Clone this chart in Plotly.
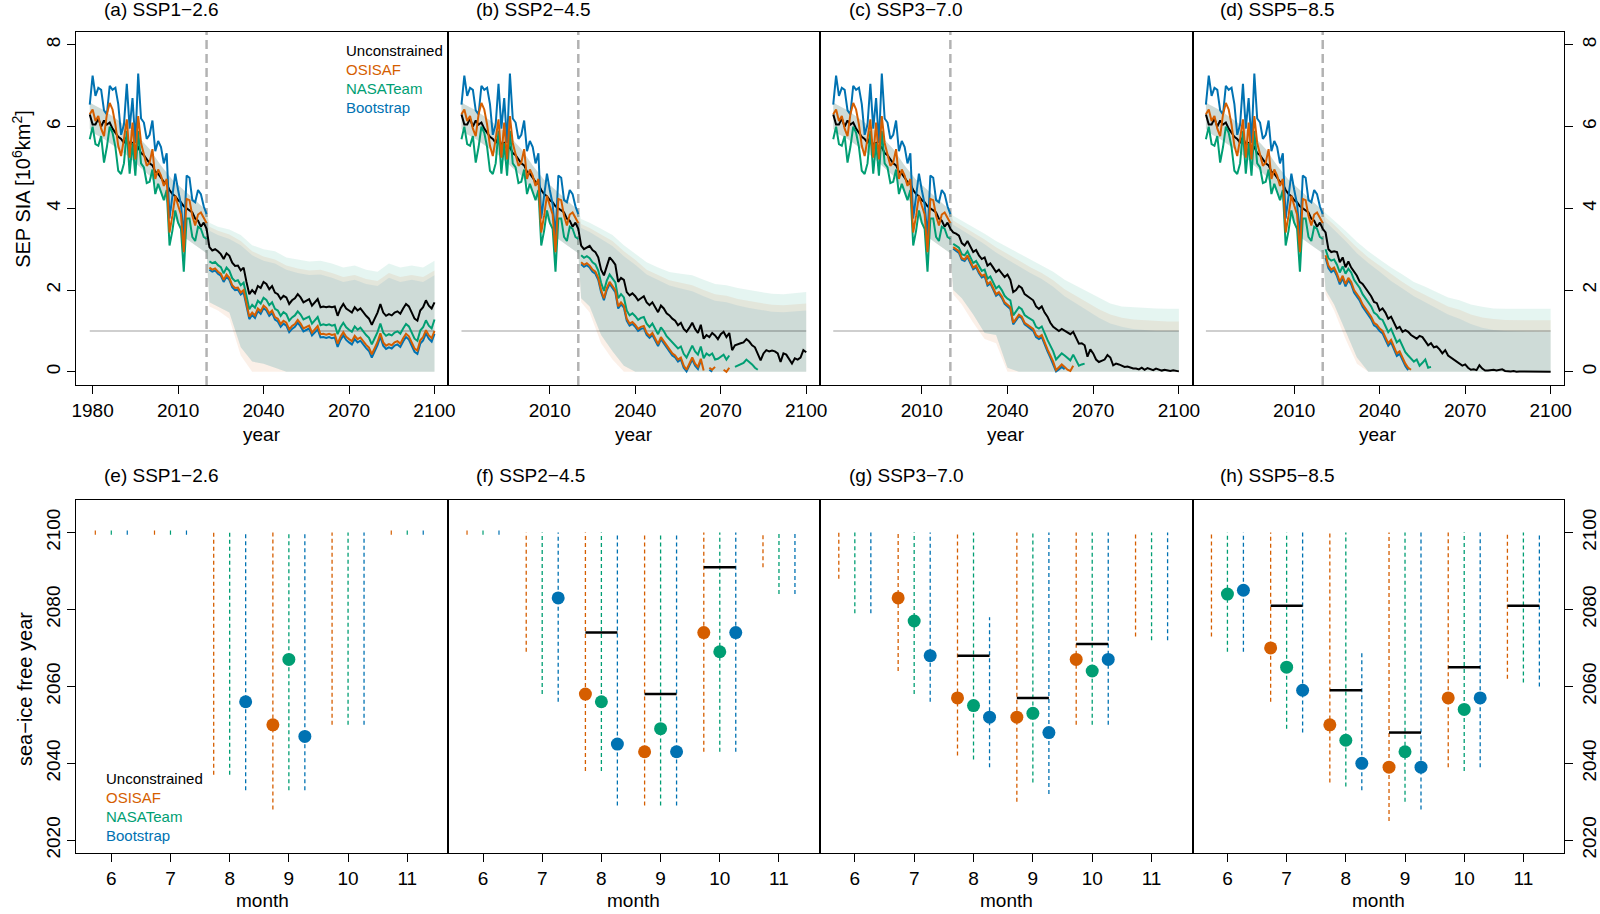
import plotly.graph_objects as go

# ---------------------------------------------------------------- data
OBS_YEARS = list(range(1979, 2021))
FUT_START = 2021
TRANSITION_YEAR = 2020
THRESHOLD = 1.0
LAST_YEAR = 2100

OBS_OSISAF = [6.3, 6.42, 6.14, 6.26, 5.95, 5.77, 6.3, 6.58, 6.42, 6.05,
              5.53, 5.28, 5.7, 6.18, 5.24, 6.1, 5.2, 6.26, 5.6, 5.3,
              5.04, 5.12, 5.45, 4.72, 4.95, 4.8, 4.55, 4.72, 3.41, 3.82,
              4.31, 4.07, 3.85, 2.93, 4.23, 4.2, 3.82, 3.58, 3.85, 3.9,
              3.78, 3.64]
OBS_NASATEAM = [5.69, 6.0, 5.57, 5.53, 5.77, 5.12, 5.5, 6.0, 5.85, 5.5,
                4.92, 4.84, 5.1, 5.9, 4.85, 5.6, 4.8, 5.9, 5.1, 5.0,
                4.62, 4.65, 4.95, 4.35, 4.6, 4.4, 4.2, 4.45, 3.09, 3.45,
                3.95, 3.65, 3.5, 2.45, 3.75, 3.75, 3.3, 3.2, 3.55, 3.5,
                3.3, 3.25]
OBS_BOOTSTRAP = [6.54, 7.25, 6.75, 6.95, 6.9, 6.4, 6.3, 7.0, 6.9, 6.95,
                 6.55, 5.8, 6.05, 7.05, 5.95, 6.7, 5.6, 7.3, 6.2, 6.1,
                 5.7, 5.8, 6.15, 5.4, 5.65, 5.5, 5.1, 5.35, 3.75, 4.25,
                 4.85, 4.45, 4.1, 3.3, 4.8, 4.75, 4.2, 4.15, 4.45, 4.35,
                 4.05, 3.86]
UNC_HIST = [6.3, 6.05, 6.05, 6.2, 6.0, 6.15, 6.05, 6.1, 5.95, 5.85,
            5.75, 5.7, 5.6, 5.75, 5.55, 5.6, 5.45, 5.5, 5.35, 5.3,
            5.2, 5.1, 5.05, 4.9, 4.85, 4.75, 4.65, 4.6, 4.45, 4.35,
            4.3, 4.2, 4.15, 4.05, 4.0, 3.95, 3.9, 3.75, 3.7, 3.55,
            3.65, 3.5]

# --- SSP1-2.6 projections (2021 ...)
UNC_126 = [3.05, 2.97, 3.0, 2.95, 2.88, 2.76, 2.9, 2.84, 2.67, 2.59,
           2.6, 2.48, 2.55, 2.2, 1.9, 2.0, 1.92, 2.1, 2.05, 2.2,
           2.15, 2.02, 2.1, 1.94, 1.9, 1.78, 1.86, 1.82, 1.66, 1.75,
           1.8, 1.9, 1.82, 1.7, 1.75, 1.78, 1.62, 1.7, 1.78, 1.58,
           1.6, 1.58, 1.6, 1.58, 1.6, 1.37, 1.55, 1.66, 1.55, 1.5,
           1.45, 1.58, 1.5, 1.55, 1.45, 1.37, 1.3, 1.15, 1.3, 1.45,
           1.66, 1.45, 1.37, 1.41, 1.38, 1.45, 1.48, 1.42, 1.55, 1.66,
           1.6, 1.45, 1.3, 1.25, 1.5, 1.58, 1.75, 1.62, 1.55, 1.7]
OSI_126 = [2.55, 2.5, 2.53, 2.45, 2.4, 2.25, 2.38, 2.3, 2.12, 2.05,
           2.06, 1.94, 2.0, 1.65, 1.35, 1.45, 1.38, 1.55, 1.48, 1.62,
           1.56, 1.43, 1.5, 1.34, 1.3, 1.17, 1.25, 1.2, 1.04, 1.12,
           1.17, 1.27, 1.18, 1.06, 1.1, 1.13, 0.96, 1.04, 1.12, 0.92,
           0.93, 0.91, 0.93, 0.9, 0.92, 0.69, 0.86, 0.97, 0.86, 0.8,
           0.75, 0.88, 0.8, 0.84, 0.74, 0.66, 0.59, 0.43, 0.58, 0.73,
           0.94, 0.72, 0.64, 0.68, 0.65, 0.72, 0.75, 0.69, 0.82, 0.93,
           0.87, 0.72, 0.57, 0.52, 0.77, 0.85, 1.02, 0.89, 0.82, 1.0]
NAS_126 = [2.7, 2.66, 2.69, 2.61, 2.56, 2.41, 2.55, 2.47, 2.29, 2.22,
           2.24, 2.12, 2.18, 1.83, 1.53, 1.64, 1.57, 1.74, 1.67, 1.81,
           1.76, 1.63, 1.7, 1.54, 1.5, 1.37, 1.46, 1.41, 1.25, 1.33,
           1.38, 1.48, 1.4, 1.28, 1.32, 1.35, 1.18, 1.26, 1.34, 1.14,
           1.16, 1.14, 1.16, 1.13, 1.15, 0.92, 1.09, 1.2, 1.09, 1.03,
           0.98, 1.11, 1.03, 1.08, 0.98, 0.9, 0.83, 0.67, 0.82, 0.97,
           1.18, 0.96, 0.88, 0.92, 0.89, 0.96, 0.99, 0.93, 1.06, 1.17,
           1.11, 0.96, 0.81, 0.76, 1.01, 1.09, 1.26, 1.13, 1.06, 1.28]
BOOT_126 = [2.5, 2.45, 2.48, 2.4, 2.35, 2.2, 2.33, 2.25, 2.07, 2.0,
            2.01, 1.89, 1.94, 1.59, 1.29, 1.39, 1.32, 1.49, 1.42, 1.56,
            1.5, 1.37, 1.44, 1.28, 1.23, 1.1, 1.18, 1.13, 0.97, 1.05,
            1.1, 1.2, 1.11, 0.99, 1.03, 1.06, 0.89, 0.96, 1.04, 0.84,
            0.85, 0.83, 0.85, 0.82, 0.84, 0.61, 0.78, 0.89, 0.78, 0.72,
            0.67, 0.8, 0.72, 0.76, 0.66, 0.58, 0.51, 0.35, 0.5, 0.65,
            0.86, 0.64, 0.56, 0.6, 0.57, 0.64, 0.67, 0.61, 0.74, 0.85,
            0.79, 0.64, 0.49, 0.44, 0.69, 0.77, 0.94, 0.81, 0.74, 0.93]

# --- SSP2-4.5
UNC_245 = [3.09, 3.0, 3.05, 3.08, 2.98, 2.93, 2.8, 2.5, 2.36, 2.6,
           2.8, 2.72, 2.62, 2.2, 2.3, 2.25, 1.95, 1.87, 1.92, 1.85,
           1.75, 1.8, 1.85, 1.7, 1.63, 1.7, 1.58, 1.46, 1.62, 1.55,
           1.43, 1.38, 1.3, 1.25, 1.14, 1.2, 1.05, 0.98, 1.08, 1.2,
           1.05, 0.95, 1.15, 0.81, 0.9, 0.85, 0.95, 0.89, 0.8, 0.92,
           0.98, 0.85, 0.95, 0.53, 0.65, 0.68, 0.7, 0.72, 0.8, 0.74,
           0.65, 0.6, 0.45, 0.28, 0.45, 0.53, 0.5, 0.52, 0.5, 0.45,
           0.24, 0.45, 0.42, 0.3, 0.2, 0.33, 0.3, 0.35, 0.53, 0.48]
OSI_245 = [2.68, 2.62, 2.66, 2.6, 2.5, 2.45, 2.3, 2.0, 1.8, 2.05,
           2.2, 2.1, 2.0, 1.6, 1.7, 1.62, 1.3, 1.18, 1.22, 1.15,
           1.05, 1.1, 1.12, 0.95, 0.88, 0.95, 0.8, 0.68, 0.85, 0.75,
           0.62, 0.55, 0.45, 0.4, 0.3, 0.35, 0.15, 0.05, 0.2, 0.35,
           0.2, 0.12, 0.32, 0.03, None, 0.1, 0.05, 0.12, None, None,
           0.05, 0.0, 0.1]
NAS_245 = [2.85, 2.79, 2.83, 2.78, 2.68, 2.63, 2.48, 2.18, 1.98, 2.23,
           2.38, 2.29, 2.19, 1.8, 1.9, 1.82, 1.5, 1.38, 1.43, 1.36,
           1.27, 1.32, 1.34, 1.18, 1.1, 1.18, 1.04, 0.92, 1.09, 1.0,
           0.87, 0.8, 0.71, 0.66, 0.57, 0.62, 0.44, 0.35, 0.5, 0.64,
           0.5, 0.42, 0.62, 0.33, 0.45, 0.4, 0.45, 0.3, 0.32, 0.38,
           0.42, 0.3, 0.4, None, 0.12, 0.15, 0.18, 0.22, 0.3, 0.25,
           0.18, 0.1, 0.05]
BOOT_245 = [2.63, 2.57, 2.61, 2.55, 2.45, 2.4, 2.25, 1.95, 1.75, 2.0,
            2.15, 2.05, 1.95, 1.55, 1.65, 1.57, 1.25, 1.13, 1.17, 1.1,
            1.0, 1.05, 1.07, 0.9, 0.83, 0.9, 0.75, 0.63, 0.8, 0.7,
            0.57, 0.5, 0.4, 0.35, 0.25, 0.3, 0.1, 0.01, 0.15, 0.3,
            0.15, 0.07, 0.27, None, None, 0.05, 0.0]

# --- SSP3-7.0
UNC_370 = [3.41, 3.38, 3.33, 3.15, 3.09, 3.2, 3.05, 2.93, 2.98, 2.85,
           2.76, 2.8, 2.6, 2.65, 2.55, 2.44, 2.5, 2.42, 2.32, 2.38,
           2.25, 1.95, 2.0, 2.1, 2.05, 1.9, 1.85, 1.8, 1.75, 1.6,
           1.54, 1.6, 1.45, 1.35, 1.2, 1.1, 1.05, 1.0, 1.05, 1.0,
           0.95, 0.92, 0.98, 0.85, 0.69, 0.7, 0.65, 0.37, 0.55, 0.45,
           0.3, 0.24, 0.28, 0.3, 0.41, 0.35, 0.16, 0.2, 0.18, 0.15,
           0.12, 0.13, 0.1, 0.08, 0.08, 0.06, 0.1, 0.05, 0.09, 0.06,
           0.04, 0.08, 0.05, 0.03, 0.05, 0.03, 0.02, 0.04, 0.02, 0.01]
OSI_370 = [3.05, 3.0, 2.95, 2.78, 2.75, 2.85, 2.68, 2.55, 2.6, 2.45,
           2.35, 2.38, 2.15, 2.2, 2.05, 1.9, 1.95, 1.85, 1.7, 1.63,
           1.58, 1.2, 1.3, 1.4, 1.35, 1.2, 1.15, 1.1, 1.05, 0.9,
           0.85, 0.9, 0.7, 0.55, 0.4, 0.25, 0.04, 0.1, 0.18, 0.12,
           0.05, 0.02, 0.15]
NAS_370 = [3.13, 3.09, 3.04, 2.88, 2.85, 2.95, 2.79, 2.66, 2.71, 2.57,
           2.47, 2.5, 2.28, 2.33, 2.19, 2.04, 2.1, 2.0, 1.86, 1.79,
           1.75, 1.38, 1.48, 1.58, 1.53, 1.39, 1.34, 1.3, 1.25, 1.1,
           1.06, 1.11, 0.92, 0.78, 0.64, 0.5, 0.3, 0.38, 0.45, 0.4,
           0.33, 0.28, 0.42, 0.3, 0.15, 0.18, 0.2]
BOOT_370 = [3.01, 2.96, 2.91, 2.74, 2.71, 2.81, 2.64, 2.51, 2.56, 2.41,
            2.31, 2.34, 2.11, 2.16, 2.01, 1.86, 1.91, 1.81, 1.66, 1.59,
            1.54, 1.16, 1.26, 1.36, 1.31, 1.16, 1.11, 1.06, 1.0, 0.85,
            0.8, 0.85, 0.65, 0.5, 0.35, 0.2, 0.01, 0.06, 0.12, 0.06]

# --- SSP5-8.5
UNC_585 = [3.41, 3.0, 2.93, 2.95, 2.93, 2.68, 2.8, 2.56, 2.7, 2.55,
           2.44, 2.35, 2.2, 2.15, 2.05, 1.95, 1.85, 1.71, 1.68, 1.5,
           1.55, 1.45, 1.3, 1.35, 1.2, 1.06, 1.1, 0.98, 1.02, 0.98,
           0.9, 0.85, 0.81, 0.88, 0.85, 0.75, 0.65, 0.7, 0.6, 0.62,
           0.55, 0.45, 0.53, 0.4, 0.35, 0.3, 0.24, 0.2, 0.15, 0.18,
           0.1, 0.05, 0.06, 0.04, 0.16, 0.08, 0.03, 0.03, 0.04, 0.05,
           0.03, 0.04, 0.06, 0.02, 0.01, 0.01, 0.02, 0.0, 0.01, 0.01,
           0.0, 0.0, 0.01, 0.0, 0.0, 0.0, 0.01, 0.0, 0.0, 0.0]
OSI_585 = [2.85, 2.6, 2.5, 2.55, 2.4, 2.2, 2.35, 2.15, 2.3, 2.2,
           2.0, 1.9, 1.8, 1.65, 1.55, 1.45, 1.35, 1.2, 1.15, 1.06,
           1.0, 0.85, 0.7, 0.78, 0.6, 0.45, 0.5, 0.35, 0.2, 0.1,
           0.05]
NAS_585 = [3.0, 2.78, 2.72, 2.75, 2.62, 2.43, 2.58, 2.4, 2.52, 2.43,
           2.25, 2.15, 2.05, 1.9, 1.8, 1.7, 1.6, 1.45, 1.4, 1.3,
           1.27, 1.12, 0.97, 1.05, 0.88, 0.72, 0.78, 0.62, 0.48, 0.4,
           0.33, 0.25, 0.3, 0.15, 0.22, 0.3, 0.1, 0.12]
BOOT_585 = [2.79, 2.54, 2.44, 2.49, 2.34, 2.14, 2.29, 2.09, 2.24, 2.14,
            1.94, 1.84, 1.74, 1.59, 1.49, 1.39, 1.29, 1.14, 1.09, 1.0,
            0.94, 0.79, 0.64, 0.72, 0.54, 0.39, 0.44, 0.29, 0.14, 0.04]

# --- uncertainty ranges
BAND_HIST_YEARS = [1979, 1980, 1984, 1988, 1992, 1996, 2000, 2004, 2008, 2012, 2016, 2020]
BAND_HIST_UP = [6.6, 6.55, 6.4, 6.2, 6.0, 5.75, 5.45, 5.05, 4.7, 4.45, 4.2, 3.95]
BAND_HIST_LO = [5.95, 5.85, 5.7, 5.5, 5.3, 5.05, 4.8, 4.4, 3.9, 3.3, 3.1, 2.9]
BAND_FUT_YEARS = [2021, 2024, 2028, 2032, 2036, 2040, 2044, 2048, 2052, 2056, 2060,
                  2064, 2068, 2072, 2076, 2080, 2084, 2088, 2092, 2096, 2100]

UPG_126 = [3.65, 3.55, 3.48, 3.35, 3.1, 3.0, 2.95, 2.8, 2.75, 2.7, 2.72, 2.65, 2.55, 2.6, 2.5, 2.45, 2.65, 2.55, 2.6, 2.55, 2.72]
UPO_126 = [3.55, 3.45, 3.36, 3.2, 2.95, 2.82, 2.75, 2.6, 2.53, 2.48, 2.5, 2.42, 2.32, 2.37, 2.27, 2.22, 2.42, 2.32, 2.37, 2.32, 2.48]
UPB_126 = [3.45, 3.35, 3.25, 3.1, 2.85, 2.72, 2.65, 2.5, 2.42, 2.37, 2.38, 2.3, 2.2, 2.25, 2.15, 2.1, 2.3, 2.2, 2.25, 2.2, 2.36]
LOGB_126 = [1.7, 1.6, 1.45, 0.6, 0.25, 0.2, 0.1, 0.0, 0.0, 0.0, 0.0, 0.0, 0.0, 0.0, 0.0, 0.0, 0.0, 0.0, 0.0, 0.0, 0.0]
LOO_126 = [1.6, 1.5, 1.3, 0.4, 0.0, 0.0, 0.0, 0.0, 0.0, 0.0, 0.0, 0.0, 0.0, 0.0, 0.0, 0.0, 0.0, 0.0, 0.0, 0.0, 0.0]

UPG_245 = [3.74, 3.65, 3.5, 3.35, 3.1, 2.9, 2.68, 2.55, 2.44, 2.4, 2.36, 2.25, 2.15, 2.12, 2.05, 2.0, 1.95, 1.91, 1.9, 1.92, 1.95]
UPO_245 = [3.62, 3.52, 3.36, 3.2, 2.95, 2.74, 2.5, 2.36, 2.24, 2.18, 2.12, 2.0, 1.9, 1.86, 1.78, 1.73, 1.68, 1.64, 1.63, 1.65, 1.67]
UPB_245 = [3.52, 3.42, 3.25, 3.08, 2.83, 2.62, 2.38, 2.24, 2.11, 2.04, 1.97, 1.85, 1.74, 1.7, 1.62, 1.56, 1.51, 1.47, 1.46, 1.48, 1.5]
LOGB_245 = [1.8, 1.6, 0.9, 0.5, 0.15, 0.0, 0.0, 0.0, 0.0, 0.0, 0.0, 0.0, 0.0, 0.0, 0.0, 0.0, 0.0, 0.0, 0.0, 0.0, 0.0]
LOO_245 = [1.7, 1.45, 0.7, 0.3, 0.0, 0.0, 0.0, 0.0, 0.0, 0.0, 0.0, 0.0, 0.0, 0.0, 0.0, 0.0, 0.0, 0.0, 0.0, 0.0, 0.0]

UPG_370 = [3.82, 3.7, 3.55, 3.38, 3.2, 3.05, 2.9, 2.75, 2.62, 2.45, 2.25, 2.1, 1.95, 1.8, 1.67, 1.6, 1.58, 1.56, 1.55, 1.54, 1.54]
UPO_370 = [3.7, 3.58, 3.42, 3.24, 3.05, 2.88, 2.72, 2.56, 2.42, 2.24, 2.02, 1.86, 1.7, 1.53, 1.4, 1.32, 1.28, 1.26, 1.24, 1.23, 1.23]
UPB_370 = [3.6, 3.48, 3.3, 3.12, 2.92, 2.75, 2.58, 2.42, 2.27, 2.08, 1.85, 1.68, 1.5, 1.32, 1.18, 1.1, 1.05, 1.02, 1.0, 1.0, 1.0]
LOGB_370 = [2.0, 1.8, 1.4, 0.95, 0.9, 0.1, 0.0, 0.0, 0.0, 0.0, 0.0, 0.0, 0.0, 0.0, 0.0, 0.0, 0.0, 0.0, 0.0, 0.0, 0.0]
LOO_370 = [1.9, 1.65, 1.2, 0.8, 0.7, 0.0, 0.0, 0.0, 0.0, 0.0, 0.0, 0.0, 0.0, 0.0, 0.0, 0.0, 0.0, 0.0, 0.0, 0.0, 0.0]

UPG_585 = [3.9, 3.72, 3.45, 3.18, 2.95, 2.75, 2.55, 2.38, 2.2, 2.08, 1.95, 1.82, 1.75, 1.65, 1.59, 1.55, 1.54, 1.54, 1.54, 1.54, 1.54]
UPO_585 = [3.78, 3.6, 3.32, 3.04, 2.8, 2.6, 2.38, 2.2, 2.02, 1.88, 1.74, 1.6, 1.52, 1.4, 1.33, 1.29, 1.27, 1.26, 1.26, 1.26, 1.26]
UPB_585 = [3.68, 3.48, 3.2, 2.9, 2.66, 2.45, 2.22, 2.04, 1.85, 1.7, 1.55, 1.4, 1.3, 1.17, 1.08, 1.02, 1.0, 0.99, 0.98, 0.98, 0.98]
LOGB_585 = [2.0, 1.65, 1.0, 0.35, 0.0, 0.0, 0.0, 0.0, 0.0, 0.0, 0.0, 0.0, 0.0, 0.0, 0.0, 0.0, 0.0, 0.0, 0.0, 0.0, 0.0]
LOO_585 = [1.9, 1.5, 0.8, 0.2, 0.0, 0.0, 0.0, 0.0, 0.0, 0.0, 0.0, 0.0, 0.0, 0.0, 0.0, 0.0, 0.0, 0.0, 0.0, 0.0, 0.0]

# --- sea-ice free year by month
MONTHS = [6, 7, 8, 9, 10, 11]

SFY_126_OSI_LO = [2100, 2100, 2037, 2028, 2050, 2100]
SFY_126_OSI_HI = [2100, 2100, 2100, 2100, 2100, 2100]
SFY_126_OSI_MED = [None, None, None, 2050, None, None]
SFY_126_NAS_LO = [2100, 2100, 2037, 2033, 2050, 2100]
SFY_126_NAS_HI = [2100, 2100, 2100, 2100, 2100, 2100]
SFY_126_NAS_MED = [None, None, None, 2067, None, None]
SFY_126_BOOT_LO = [2100, 2100, 2033, 2033, 2050, 2100]
SFY_126_BOOT_HI = [2100, 2100, 2100, 2100, 2100, 2100]
SFY_126_BOOT_MED = [None, None, 2056, 2047, None, None]
SFY_126_UNC = [None, None, None, None, None, None]

SFY_245_OSI_LO = [2100, 2069, 2038, 2029, 2043, 2091]
SFY_245_OSI_HI = [2100, 2100, 2100, 2100, 2100, 2100]
SFY_245_OSI_MED = [None, None, 2058, 2043, 2074, None]
SFY_245_NAS_LO = [2100, 2058, 2038, 2029, 2043, 2084]
SFY_245_NAS_HI = [2100, 2100, 2100, 2100, 2100, 2100]
SFY_245_NAS_MED = [None, None, 2056, 2049, 2069, None]
SFY_245_BOOT_LO = [2100, 2056, 2029, 2029, 2043, 2084]
SFY_245_BOOT_HI = [2100, 2100, 2100, 2100, 2100, 2100]
SFY_245_BOOT_MED = [None, 2083, 2045, 2043, 2074, None]
SFY_245_UNC = [None, None, 2074, 2058, 2091, None]

SFY_370_OSI_LO = [2088, 2064, 2042, 2030, 2050, 2073]
SFY_370_OSI_HI = [2100, 2100, 2100, 2100, 2100, 2100]
SFY_370_OSI_MED = [None, 2083, 2057, 2052, 2067, None]
SFY_370_NAS_LO = [2079, 2058, 2041, 2035, 2050, 2072]
SFY_370_NAS_HI = [2100, 2100, 2100, 2100, 2100, 2100]
SFY_370_NAS_MED = [None, 2077, 2055, 2053, 2064, None]
SFY_370_BOOT_LO = [2079, 2056, 2039, 2032, 2050, 2072]
SFY_370_BOOT_HI = [2100, 2100, 2078, 2100, 2100, 2100]
SFY_370_BOOT_MED = [None, 2068, 2052, 2048, 2067, None]
SFY_370_UNC = [None, None, 2068, 2057, 2071, None]

SFY_585_OSI_LO = [2073, 2056, 2035, 2025, 2039, 2062]
SFY_585_OSI_HI = [2100, 2100, 2100, 2100, 2100, 2100]
SFY_585_OSI_MED = [None, 2070, 2050, 2039, 2057, None]
SFY_585_NAS_LO = [2069, 2049, 2034, 2030, 2038, 2061]
SFY_585_NAS_HI = [2100, 2100, 2100, 2100, 2100, 2100]
SFY_585_NAS_MED = [2084, 2065, 2046, 2043, 2054, None]
SFY_585_BOOT_LO = [2069, 2048, 2033, 2028, 2039, 2060]
SFY_585_BOOT_HI = [2100, 2100, 2069, 2100, 2100, 2100]
SFY_585_BOOT_MED = [2085, 2059, 2040, 2039, 2057, None]
SFY_585_UNC = [None, 2081, 2059, 2048, 2065, 2081]

TOP_TITLES = ["(a) SSP1\u22122.6", "(b) SSP2\u22124.5", "(c) SSP3\u22127.0", "(d) SSP5\u22128.5"]
BOT_TITLES = ["(e) SSP1\u22122.6", "(f) SSP2\u22124.5", "(g) SSP3\u22127.0", "(h) SSP5\u22128.5"]
LEGEND_LABELS = ["Unconstrained", "OSISAF", "NASATeam", "Bootstrap"]
TOP_XTICKS_FIRST = [1980, 2010, 2040, 2070, 2100]
TOP_XTICKS_OTHER = [2010, 2040, 2070, 2100]
TOP_YTICKS = [0, 2, 4, 6, 8]
BOT_YTICKS = [2020, 2040, 2060, 2080, 2100]

# ---------------------------------------------------------------- assemble
PROJ = [
    dict(unc=UNC_126, OSISAF=OSI_126, NASATeam=NAS_126, Bootstrap=BOOT_126,
         upg=UPG_126, upo=UPO_126, upb=UPB_126, logb=LOGB_126, loo=LOO_126),
    dict(unc=UNC_245, OSISAF=OSI_245, NASATeam=NAS_245, Bootstrap=BOOT_245,
         upg=UPG_245, upo=UPO_245, upb=UPB_245, logb=LOGB_245, loo=LOO_245),
    dict(unc=UNC_370, OSISAF=OSI_370, NASATeam=NAS_370, Bootstrap=BOOT_370,
         upg=UPG_370, upo=UPO_370, upb=UPB_370, logb=LOGB_370, loo=LOO_370),
    dict(unc=UNC_585, OSISAF=OSI_585, NASATeam=NAS_585, Bootstrap=BOOT_585,
         upg=UPG_585, upo=UPO_585, upb=UPB_585, logb=LOGB_585, loo=LOO_585),
]
OBS = dict(OSISAF=OBS_OSISAF, NASATeam=OBS_NASATEAM, Bootstrap=OBS_BOOTSTRAP)
SFY = [
    dict(OSISAF=(SFY_126_OSI_LO, SFY_126_OSI_HI, SFY_126_OSI_MED),
         NASATeam=(SFY_126_NAS_LO, SFY_126_NAS_HI, SFY_126_NAS_MED),
         Bootstrap=(SFY_126_BOOT_LO, SFY_126_BOOT_HI, SFY_126_BOOT_MED), unc=SFY_126_UNC),
    dict(OSISAF=(SFY_245_OSI_LO, SFY_245_OSI_HI, SFY_245_OSI_MED),
         NASATeam=(SFY_245_NAS_LO, SFY_245_NAS_HI, SFY_245_NAS_MED),
         Bootstrap=(SFY_245_BOOT_LO, SFY_245_BOOT_HI, SFY_245_BOOT_MED), unc=SFY_245_UNC),
    dict(OSISAF=(SFY_370_OSI_LO, SFY_370_OSI_HI, SFY_370_OSI_MED),
         NASATeam=(SFY_370_NAS_LO, SFY_370_NAS_HI, SFY_370_NAS_MED),
         Bootstrap=(SFY_370_BOOT_LO, SFY_370_BOOT_HI, SFY_370_BOOT_MED), unc=SFY_370_UNC),
    dict(OSISAF=(SFY_585_OSI_LO, SFY_585_OSI_HI, SFY_585_OSI_MED),
         NASATeam=(SFY_585_NAS_LO, SFY_585_NAS_HI, SFY_585_NAS_MED),
         Bootstrap=(SFY_585_BOOT_LO, SFY_585_BOOT_HI, SFY_585_BOOT_MED), unc=SFY_585_UNC),
]

# ---------------------------------------------------------------- style
W, H = 1600, 914
FONT = "Liberation Sans, Arial, Helvetica, sans-serif"
COL = {"Unconstrained": "#000000", "OSISAF": "#D55E00", "NASATeam": "#009E73", "Bootstrap": "#0072B2"}
FILL = {"NASATeam": "rgba(0,158,115,0.10)", "OSISAF": "rgba(213,94,0,0.09)",
        "Bootstrap": "rgba(0,114,178,0.09)"}
OFFSET = {"OSISAF": -0.27, "NASATeam": 0.0, "Bootstrap": 0.27}
PX_L = [72, 447, 822, 1198]
PX_R = [447, 822, 1198, 1573]
TOP_Y = (32, 387)
BOT_Y = (503, 858)
TOP_XRANGE = [1974.3, 2104.77]
TOP_YRANGE = [-0.32, 8.32]
BOT_XRANGE = [5.41, 11.69]
BOT_YRANGE = [2016.6, 2108.4]
TICKFONT = dict(family=FONT, size=19, color="black")


def pxx(p):
    return p / W


def pxy(p):
    return 1 - p / H


fig = go.Figure()
layout = dict(width=W, height=H, margin=dict(l=0, r=0, t=0, b=0), autosize=False,
              paper_bgcolor="white", plot_bgcolor="white", showlegend=False,
              hovermode=False, font=dict(family=FONT, color="black"))
annotations = []
shapes = []

for i in range(8):
    n = i + 1
    col = i % 4
    top = i < 4
    xs = "" if n == 1 else str(n)
    ydom = (TOP_Y if top else BOT_Y)
    base = dict(showline=True, linecolor="black", linewidth=1, mirror=True,
                showgrid=False, zeroline=False, ticks="outside", ticklen=8,
                tickwidth=1, tickcolor="black", tickfont=TICKFONT)
    xax = dict(base, domain=[pxx(PX_L[col]), pxx(PX_R[col])], anchor="y" + xs)
    yax = dict(base, domain=[pxy(ydom[1]), pxy(ydom[0])], anchor="x" + xs, tickangle=-90)
    if top:
        xax.update(range=TOP_XRANGE, tickvals=TOP_XTICKS_FIRST if col == 0 else TOP_XTICKS_OTHER)
        yax.update(range=TOP_YRANGE, tickvals=TOP_YTICKS)
    else:
        xax.update(range=BOT_XRANGE, tickvals=MONTHS)
        yax.update(range=BOT_YRANGE, tickvals=BOT_YTICKS)
    if col == 3:
        yax.update(side="right")
    elif col != 0:
        yax.update(ticks="", showticklabels=False)
    layout["xaxis" + xs] = xax
    layout["yaxis" + xs] = yax

# ---------------------------------------------------------------- top panels
for col in range(4):
    n = col + 1
    xs = "" if n == 1 else str(n)
    xr, yr = "x" + xs, "y" + xs
    P = PROJ[col]
    band_x = BAND_HIST_YEARS + BAND_FUT_YEARS
    for prod, up, lo in [("NASATeam", P["upg"], P["logb"]), ("OSISAF", P["upo"], P["loo"]),
                         ("Bootstrap", P["upb"], P["logb"])]:
        uy = BAND_HIST_UP + up
        ly = BAND_HIST_LO + lo
        fig.add_trace(go.Scatter(x=band_x + band_x[::-1], y=uy + ly[::-1], fill="toself",
                                 fillcolor=FILL[prod], line=dict(width=0), mode="lines",
                                 xaxis=xr, yaxis=yr, hoverinfo="skip"))
    fig.add_trace(go.Scatter(x=[OBS_YEARS[0], LAST_YEAR], y=[THRESHOLD, THRESHOLD], mode="lines",
                             line=dict(color="rgba(0,0,0,0.25)", width=1.5), xaxis=xr, yaxis=yr))
    shapes.append(dict(type="line", xref=xr, yref=yr + " domain", x0=TRANSITION_YEAR,
                       x1=TRANSITION_YEAR, y0=0, y1=1, layer="below",
                       line=dict(color="rgba(0,0,0,0.3)", width=2.5, dash="9px,5px")))
    unc = UNC_HIST + P["unc"]
    fig.add_trace(go.Scatter(x=list(range(OBS_YEARS[0], OBS_YEARS[0] + len(unc))), y=unc,
                             mode="lines", line=dict(color=COL["Unconstrained"], width=2),
                             xaxis=xr, yaxis=yr))
    for prod in ["NASATeam", "Bootstrap", "OSISAF"]:
        fig.add_trace(go.Scatter(x=OBS_YEARS, y=OBS[prod], mode="lines",
                                 line=dict(color=COL[prod], width=2), xaxis=xr, yaxis=yr))
        fut = P[prod]
        fig.add_trace(go.Scatter(x=list(range(FUT_START, FUT_START + len(fut))), y=fut,
                                 mode="lines", connectgaps=False,
                                 line=dict(color=COL[prod], width=2), xaxis=xr, yaxis=yr))

# ---------------------------------------------------------------- bottom panels
for col in range(4):
    n = col + 5
    xs = str(n)
    xr, yr = "x" + xs, "y" + xs
    S = SFY[col]
    for prod in ["OSISAF", "NASATeam", "Bootstrap"]:
        lo, hi, med = S[prod]
        lx, ly, zx, zy = [], [], [], []
        for m, a, b in zip(MONTHS, lo, hi):
            if a == b:
                zx.append(m + OFFSET[prod])
                zy.append(a)
            else:
                lx += [m + OFFSET[prod], m + OFFSET[prod], None]
                ly += [a, b, None]
        fig.add_trace(go.Scatter(x=lx, y=ly, mode="lines", xaxis=xr, yaxis=yr,
                                 line=dict(color=COL[prod], width=1.3, dash="4px,3px")))
        if zx:
            fig.add_trace(go.Scatter(x=zx, y=zy, mode="markers", xaxis=xr, yaxis=yr,
                                     marker=dict(symbol="line-ns", size=3,
                                                 line=dict(color=COL[prod], width=1.2))))
        mx = [m + OFFSET[prod] for m, v in zip(MONTHS, med) if v is not None]
        my = [v for v in med if v is not None]
        fig.add_trace(go.Scatter(x=mx, y=my, mode="markers", xaxis=xr, yaxis=yr,
                                 marker=dict(color=COL[prod], size=13, line=dict(width=0))))
    bx, by = [], []
    for m, v in zip(MONTHS, S["unc"]):
        if v is not None:
            bx += [m + OFFSET["OSISAF"], m + OFFSET["Bootstrap"], None]
            by += [v, v, None]
    if bx:
        fig.add_trace(go.Scatter(x=bx, y=by, mode="lines", xaxis=xr, yaxis=yr,
                                 line=dict(color=COL["Unconstrained"], width=2.5)))

# ---------------------------------------------------------------- text
TITLE_X = [98, 473, 849, 1224]
for col in range(4):
    annotations.append(dict(text=TOP_TITLES[col], x=pxx(TITLE_X[col]), y=pxy(10), xref="paper",
                            yref="paper", xanchor="left", yanchor="middle", showarrow=False,
                            font=dict(family=FONT, size=19, color="black")))
    annotations.append(dict(text=BOT_TITLES[col], x=pxx(TITLE_X[col]), y=pxy(478), xref="paper",
                            yref="paper", xanchor="left", yanchor="middle", showarrow=False,
                            font=dict(family=FONT, size=19, color="black")))
    cx = (PX_L[col] + PX_R[col]) / 2
    annotations.append(dict(text="year", x=pxx(cx), y=pxy(437), xref="paper", yref="paper",
                            xanchor="center", yanchor="middle", showarrow=False,
                            font=dict(family=FONT, size=19, color="black")))
    annotations.append(dict(text="month", x=pxx(cx), y=pxy(905), xref="paper", yref="paper",
                            xanchor="center", yanchor="middle", showarrow=False,
                            font=dict(family=FONT, size=19, color="black")))

annotations.append(dict(text="SEP SIA [10<sup>6</sup>km<sup>2</sup>]", x=pxx(17), y=pxy(190),
                        xref="paper", yref="paper", xanchor="center", yanchor="middle",
                        textangle=-90, showarrow=False,
                        font=dict(family=FONT, size=20, color="black")))
annotations.append(dict(text="sea\u2212ice free year", x=pxx(20), y=pxy(693),
                        xref="paper", yref="paper", xanchor="center", yanchor="middle",
                        textangle=-90, showarrow=False,
                        font=dict(family=FONT, size=20, color="black")))

for k, lab in enumerate(LEGEND_LABELS):
    annotations.append(dict(text=lab, x=pxx(342), y=pxy(51 + 19 * k), xref="paper", yref="paper",
                            xanchor="left", yanchor="middle", showarrow=False,
                            font=dict(family=FONT, size=15, color=COL[lab])))
    annotations.append(dict(text=lab, x=pxx(100), y=pxy(783 + 19 * k), xref="paper", yref="paper",
                            xanchor="left", yanchor="middle", showarrow=False,
                            font=dict(family=FONT, size=15, color=COL[lab])))

layout["annotations"] = annotations
layout["shapes"] = shapes
fig.update_layout(**layout)
fig.write_html("out.html")
